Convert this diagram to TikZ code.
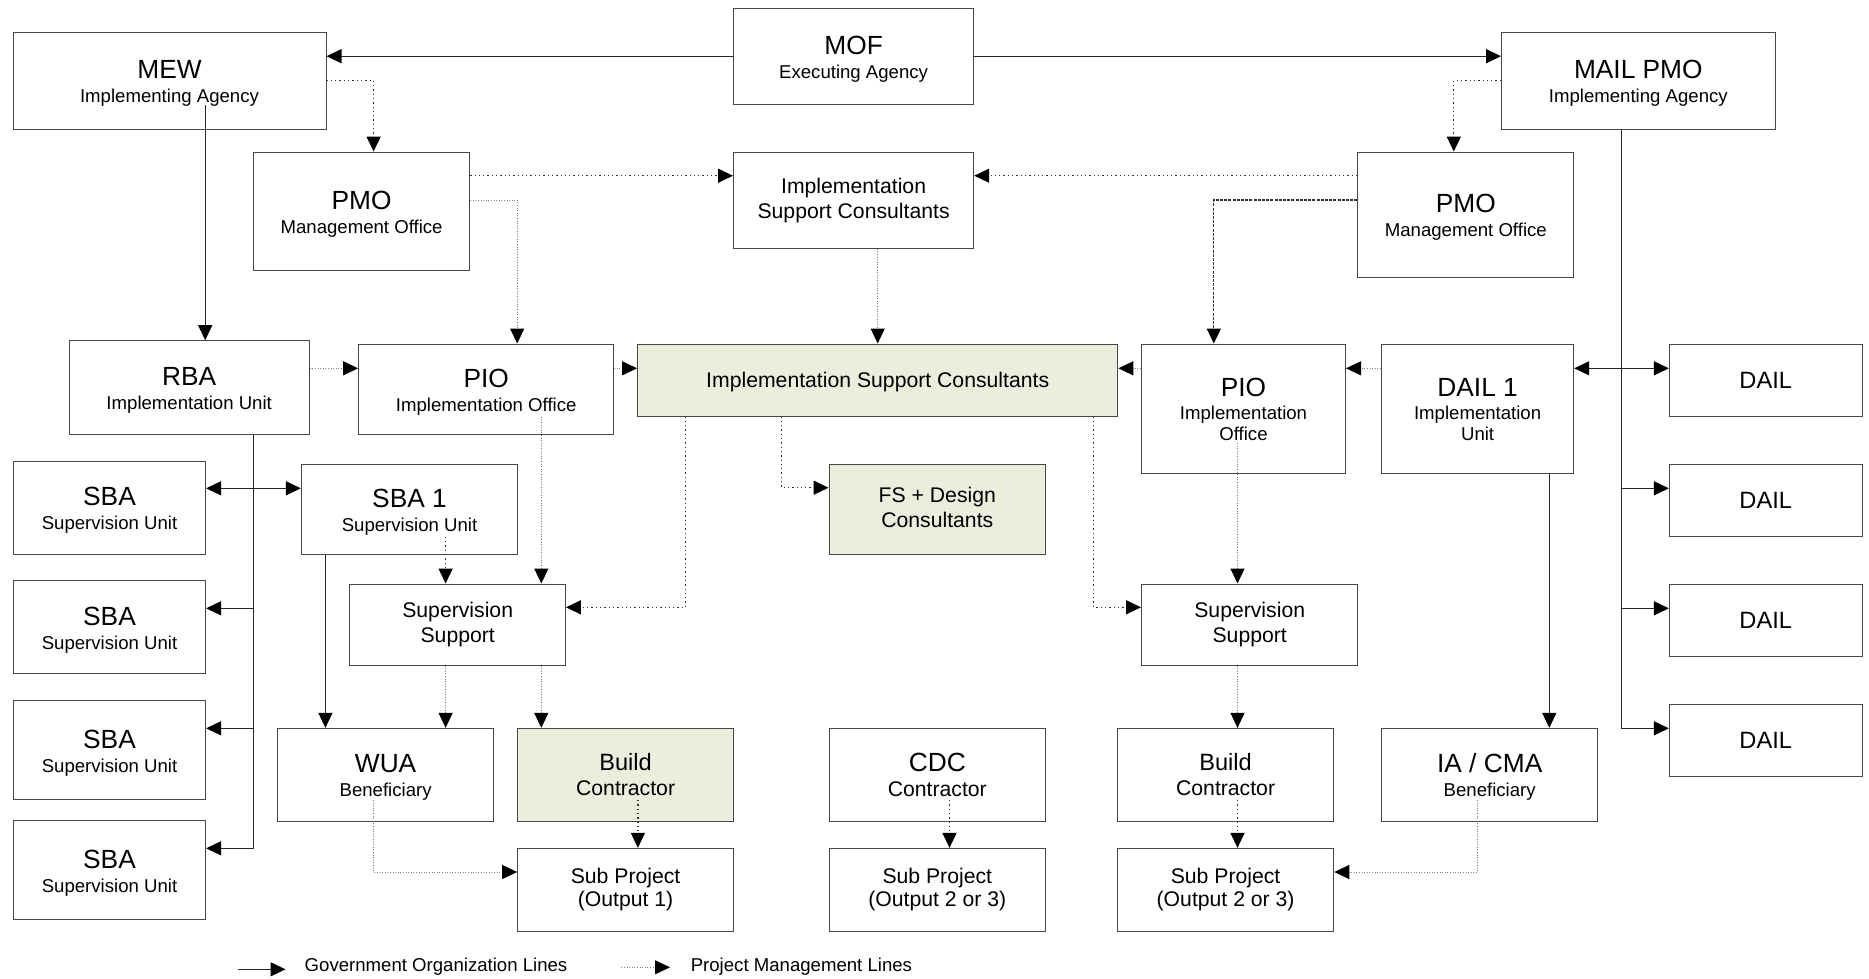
\documentclass[tikz,border=0pt]{standalone}
\usepackage{fontspec}
\setmainfont{Liberation Sans}
\usetikzlibrary{arrows.meta,calc}
\definecolor{boxgreen}{RGB}{234,238,221}
\newcommand{\xTitle}{\fontsize{26.3}{28}\selectfont}
\newcommand{\xSub}{\fontsize{18.6}{21}\selectfont}
\newcommand{\xMid}{\fontsize{21.2}{25}\selectfont}
\newcommand{\xSp}{\fontsize{21.2}{23.5}\selectfont}
\newcommand{\xBig}{\fontsize{23.6}{26}\selectfont}
\newcommand{\vs}{\rule[-0.212em]{0pt}{1.117em}}
\begin{document}
\begin{tikzpicture}[x=1pt,y=-1pt,
  box/.style={draw=black!72, line width=1pt, fill=white, inner sep=0pt, align=center, font=\xSub,
    execute at begin node=\vs, execute at end node=\vs},
  mbox/.style={box, font=\xMid},
  gbox/.style={mbox, fill=boxgreen},
  tipa/.tip={Triangle[length=15pt,width=14pt,color=black]},
  gol/.style={draw=black!85, line width=1.2pt, -tipa},
  gol2/.style={draw=black!85, line width=1.2pt, tipa-tipa},
  pm/.style={draw=black!50, line width=1pt, dash pattern=on 1pt off 1.6pt, -tipa},
  pmd/.style={draw=black!80, line width=1.3pt, dash pattern=on 1.3pt off 3pt, -tipa},
  pmdash/.style={draw=black!80, line width=1.1pt, dash pattern=on 3pt off 1.2pt, -tipa},
  lgtext/.style={anchor=base west, font=\xSub, inner sep=0pt}
]
\useasboundingbox (0,0) rectangle (1869,978);

% ---- boxes ----
\node[box, minimum width=313pt, minimum height=97pt] (mew) at (169.5,80.5) {{\xTitle\vs MEW}\\[3pt]Implementing Agency};
\node[box, minimum width=240.2pt, minimum height=96.3pt] (mof) at (853.6,56.2) {{\xTitle\vs MOF}\\[3pt]Executing Agency};
\node[box, minimum width=273.5pt, minimum height=97.3pt] (mail) at (1638.3,80.7) {{\xTitle\vs MAIL PMO}\\[3pt]Implementing Agency};
\node[box, minimum width=216.3pt, minimum height=118.3pt] (pmoL) at (361.6,211.2) {{\xTitle\vs PMO}\\[3pt]Management Office};
\node[mbox, minimum width=240.2pt, minimum height=96.3pt] (iscT) at (853.6,200.2) {Implementation\\Support Consultants};
\node[box, minimum width=215.9pt, minimum height=125.3pt] (pmoR) at (1465.8,214.7) {{\xTitle\vs PMO}\\[3pt]Management Office};
\node[box, minimum width=240pt, minimum height=93.6pt] (rba) at (189.2,387.5) {{\xTitle\vs RBA}\\[3pt]Implementation Unit};
\node[box, minimum width=255.1pt, minimum height=90.3pt] (pioL) at (486.2,389.2) {{\xTitle\vs PIO}\\[3pt]Implementation Office};
\node[gbox, minimum width=480.3pt, minimum height=72pt] (iscG) at (877.7,380) {Implementation Support Consultants};
\node[box, minimum width=204pt, minimum height=129.3pt] (pioR) at (1243.5,408.7) {{\xTitle\vs PIO}\\[2pt]Implementation\\Office};
\node[box, minimum width=192.2pt, minimum height=129.3pt] (dail1) at (1477.6,408.7) {{\xTitle\vs DAIL 1}\\[2pt]Implementation\\Unit};
\node[box, minimum width=192.7pt, minimum height=72pt, font=\xBig] (dailA) at (1765.7,380) {DAIL};
\node[box, minimum width=192.7pt, minimum height=71.7pt, font=\xBig] (dailB) at (1765.7,500.2) {DAIL};
\node[box, minimum width=192.7pt, minimum height=72pt, font=\xBig] (dailC) at (1765.7,620) {DAIL};
\node[box, minimum width=192.7pt, minimum height=72pt, font=\xBig] (dailD) at (1765.7,740) {DAIL};
\node[box, minimum width=192.2pt, minimum height=93pt] (sbaA) at (109.5,507.5) {{\xTitle\vs SBA}\\[3pt]Supervision Unit};
\node[box, minimum width=192.2pt, minimum height=93.3pt] (sbaB) at (109.5,627.3) {{\xTitle\vs SBA}\\[3pt]Supervision Unit};
\node[box, minimum width=192.2pt, minimum height=99.3pt] (sbaC) at (109.5,750.3) {{\xTitle\vs SBA}\\[3pt]Supervision Unit};
\node[box, minimum width=192.2pt, minimum height=99.3pt] (sbaD) at (109.5,870.3) {{\xTitle\vs SBA}\\[3pt]Supervision Unit};
\node[box, minimum width=216.3pt, minimum height=89.7pt] (sba1) at (409.5,509.2) {{\xTitle\vs SBA 1}\\[3pt]Supervision Unit};
\node[gbox, minimum width=216.5pt, minimum height=89.7pt] (fs) at (937.3,509.2) {FS + Design\\Consultants};
\node[mbox, minimum width=215.5pt, minimum height=81pt] (ssL) at (457.7,624.5) {Supervision\\Support};
\node[mbox, minimum width=216.3pt, minimum height=81pt] (ssR) at (1249.7,624.5) {Supervision\\Support};
\node[box, minimum width=215.9pt, minimum height=92.7pt] (wua) at (385.6,774.7) {{\xTitle\vs WUA}\\[3pt]Beneficiary};
\node[gbox, minimum width=215.9pt, minimum height=92.7pt] (buildL) at (625.6,774.7) {{\xBig\vs Build}\\Contractor};
\node[mbox, minimum width=216.5pt, minimum height=92.7pt] (cdc) at (937.3,774.7) {{\xTitle\vs CDC}\\Contractor};
\node[mbox, minimum width=216.3pt, minimum height=92.7pt] (buildR) at (1225.6,774.7) {{\xBig\vs Build}\\Contractor};
\node[box, minimum width=216.3pt, minimum height=92.7pt] (ia) at (1489.7,774.7) {{\xTitle\vs IA / CMA}\\[3pt]Beneficiary};
\node[mbox, font=\xSp, minimum width=215.9pt, minimum height=82.7pt] (sp1) at (625.6,889.7) {Sub Project\\(Output 1)};
\node[mbox, font=\xSp, minimum width=216.5pt, minimum height=82.7pt] (sp2) at (937.3,889.7) {Sub Project\\(Output 2 or 3)};
\node[mbox, font=\xSp, minimum width=216.3pt, minimum height=82.7pt] (sp3) at (1225.6,889.7) {Sub Project\\(Output 2 or 3)};

% ---- helper coordinates ----
\coordinate (mewo) at (205.2,105);
\coordinate (rbo) at (253.4,434.3);
\coordinate (s1x) at (325.4,554);
\coordinate (s1d) at (445.6,536.7);
\coordinate (pld) at (541.3,416.7);
\coordinate (gL) at (685.7,607.3);
\coordinate (gF) at (781.7,487.7);
\coordinate (gR) at (1093.7,607.3);
\coordinate (prd) at (1237.5,443);
\coordinate (wo) at (373.6,800);
\coordinate (blo) at (637.9,800);
\coordinate (cdo) at (949.5,800);
\coordinate (bro) at (1237.5,800);
\coordinate (iao) at (1477.8,800);
\coordinate (dlo) at (1549.3,473.3);
\coordinate (mlo) at (1621.5,129.3);
\coordinate (y176) at (0,175.7);
\coordinate (y200) at (0,200);
\coordinate (yA) at (0,368.3);
\coordinate (yB) at (0,488.3);
\coordinate (yC) at (0,608.3);
\coordinate (yD) at (0,728.3);
\coordinate (yE) at (0,848.3);
\coordinate (y872) at (0,872);

% ---- connectors ----
\draw[gol] (mof.west) -- (mew.east |- mof.west);
\draw[gol] (mof.east) -- (mail.west |- mof.east);
\draw[pmd] (mew.east) -| ([xshift=12pt]pmoL.north);
\draw[pmd] (mail.west) -| ([xshift=-12pt]pmoR.north);
\draw[pmd] (pmoL.east |- y176) -- (iscT.west |- y176);
\draw[pmd] (pmoR.west |- y176) -- (iscT.east |- y176);
\draw[pm] (pmoL.east |- y200) -| ([xshift=31pt]pioL.north);
\draw[pmdash] (pmoR.west |- y200) -| ([xshift=-29.7pt]pioR.north);
\draw[pm] (iscT.south -| iscG.north) -- (iscG.north);
\draw[gol] (mewo) -- (rba.north -| mewo);
\draw[pm] (rba.east |- yA) -- (pioL.west |- yA);
\draw[pm] (pioL.east |- yA) -- (iscG.west |- yA);
\draw[pm] (pioR.west |- yA) -- (iscG.east |- yA);
\draw[pm] (dail1.west |- yA) -- (pioR.east |- yA);
\draw[gol2] (dail1.east |- yA) -- (dailA.west |- yA);
\draw[gol] (rba.south -| rbo) |- (sbaD.east |- yE);
\draw[gol] (rbo |- yD) -- (sbaC.east |- yD);
\draw[gol] (rbo |- yC) -- (sbaB.east |- yC);
\draw[gol2] (sbaA.east |- yB) -- (sba1.west |- yB);
\draw[gol] (sba1.south -| s1x) -- (wua.north -| s1x);
\draw[pmd] (s1d) -- (ssL.north -| s1d);
\draw[pm] (pld) -- (ssL.north -| pld);
\draw[pm] (ssL.south -| s1d) -- (wua.north -| s1d);
\draw[pm] (ssL.south -| pld) -- (buildL.north -| pld);
\draw[pmd] (iscG.south -| gL) |- (ssL.east |- gL);
\draw[pmd] (iscG.south -| gF) |- (fs.west |- gF);
\draw[pmd] (iscG.south -| gR) |- (ssR.west |- gR);
\draw[pm] (prd) -- (ssR.north -| prd);
\draw[pm] (ssR.south -| prd) -- (buildR.north -| prd);
\draw[pmd] (blo) -- (sp1.north -| blo);
\draw[pmd] (cdo) -- (sp2.north -| cdo);
\draw[pmd] (bro) -- (sp3.north -| bro);
\draw[pm] (wo) |- (sp1.west |- y872);
\draw[pm] (iao) |- (sp3.east |- y872);
\draw[gol] (dail1.south -| dlo) -- (ia.north -| dlo);
\draw[gol] (mail.south -| mlo) |- (dailD.west |- yD);
\draw[gol] (mlo |- yB) -- (dailB.west |- yB);
\draw[gol] (mlo |- yC) -- (dailC.west |- yC);

% ---- legend ----
\coordinate (lg1) at (238,969.3);
\coordinate (lg2) at (285.5,969.3);
\draw[gol] (lg1) -- (lg2);
\node[lgtext] (lgt1) at (304.5,971.5) {Government Organization Lines};
\coordinate (lp1) at (621.4,967.3);
\coordinate (lp2) at (670,967.3);
\draw[pm] (lp1) -- (lp2);
\node[lgtext] (lgt2) at (690.6,971.5) {Project Management Lines};
\end{tikzpicture}
\end{document}
